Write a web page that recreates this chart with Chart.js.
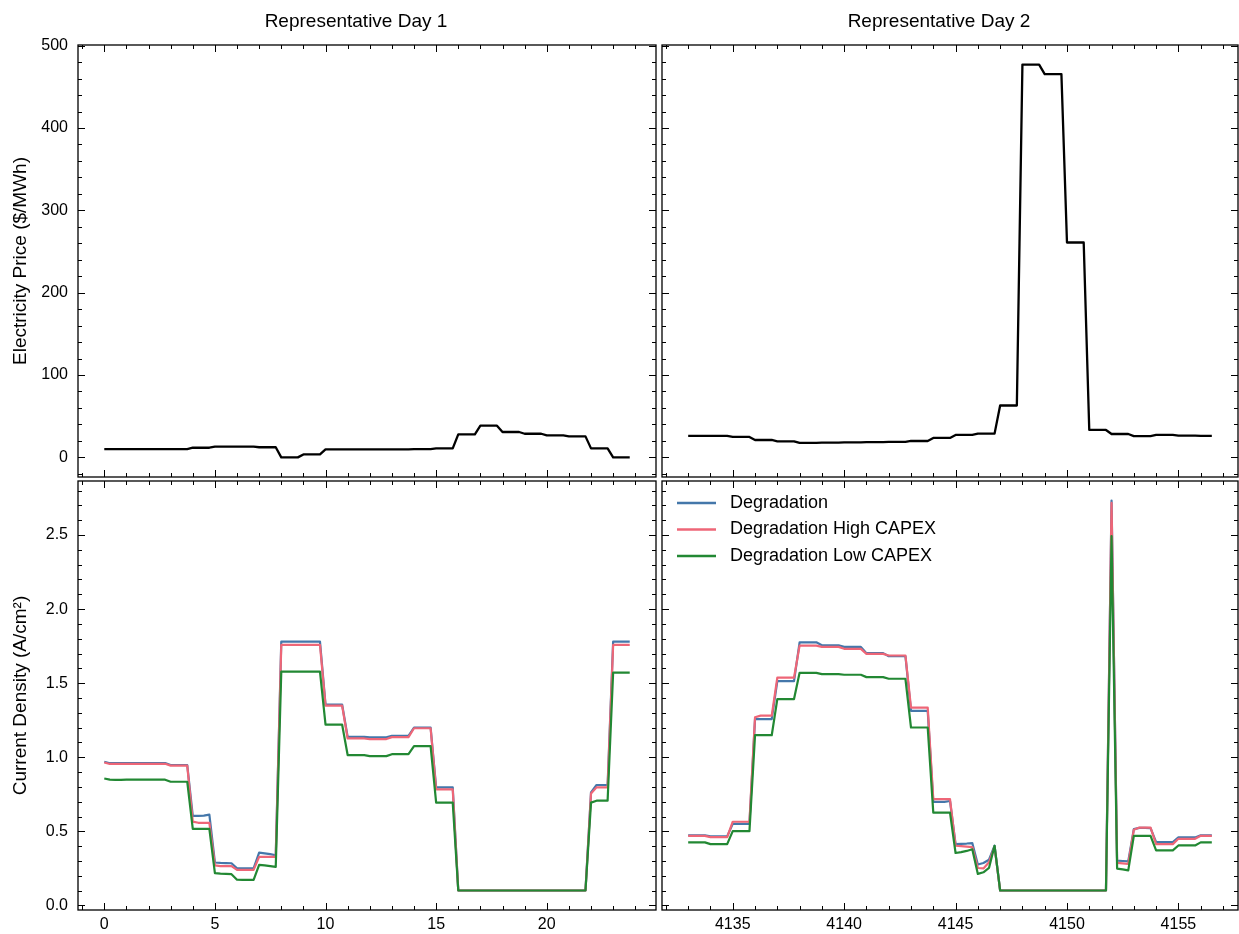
<!DOCTYPE html>
<html>
<head>
<meta charset="utf-8">
<title>Representative Days</title>
<script src="https://cdn.jsdelivr.net/npm/chart.js@4.4.1/dist/chart.umd.min.js"></script>
<style>
html,body{margin:0;padding:0;background:#fff;}
#wrap{position:relative;width:1239px;height:934px;overflow:hidden;background:#fff;}
#wrap canvas{position:absolute;left:0;top:0;}
</style>
</head>
<body>
<div id="wrap">
<canvas id="cA" width="1239" height="934"></canvas>
<canvas id="cB" width="1239" height="934"></canvas>
<canvas id="cC" width="1239" height="934"></canvas>
<canvas id="cD" width="1239" height="934"></canvas>
</div>
<script>
// ---------------- DATA (15-minute resolution) ----------------
const titles = ['Representative Day 1', 'Representative Day 2'];
const seriesNames = ['Degradation', 'Degradation High CAPEX', 'Degradation Low CAPEX'];
const day1Start = 0;      // hours
const day2Start = 4133;   // hours
const stepHours = 0.25;

// Electricity price ($/MWh)
const priceDay1 = [
  10.1,10.1,10.1,10.1, 10.1,10.1,10.1,10.1, 10.1,10.1,10.1,10.1, 10.1,10.1,10.1,10.1,
  11.7,11.7,11.7,11.7, 13.0,13.0,13.0,13.0, 13.0,13.0,13.0,13.0, 12.3,12.3,12.3,12.3,
  0,0,0,0, 3.6,3.6,3.6,3.6, 9.7,9.7,9.7,9.7, 9.7,9.7,9.7,9.7,
  9.8,9.8,9.8,9.8, 9.8,9.8,9.8,9.8, 9.9,9.9,9.9,9.9, 10.9,10.9,10.9,10.9,
  28.0,28.0,28.0,28.0, 38.5,38.5,38.5,38.5, 30.8,30.8,30.8,30.8, 28.7,28.7,28.7,28.7,
  26.7,26.7,26.7,26.7, 25.5,25.5,25.5,25.5, 10.9,10.9,10.9,10.9, 0,0,0,0
];
const priceDay2 = [
  26.0,26.0,26.0,26.0, 26.0,26.0,26.0,26.0, 24.8,24.8,24.8,24.8, 21.1,21.1,21.1,21.1,
  19.5,19.5,19.5,19.5, 17.5,17.5,17.5,17.5, 18.0,18.0,18.0,18.0, 18.3,18.3,18.3,18.3,
  18.5,18.5,18.5,18.5, 18.7,18.7,18.7,18.7, 19.9,19.9,19.9,19.9, 23.6,23.6,23.6,23.6,
  27.2,27.2,27.2,27.2, 28.8,28.8,28.8,28.8, 63.0,63.0,63.0,63.0, 477.0,477.0,477.0,477.0,
  465.5,465.5,465.5,465.5, 261.0,261.0,261.0,261.0, 33.3,33.3,33.3,33.3, 28.4,28.4,28.4,28.4,
  25.8,25.8,25.8,25.8, 27.2,27.2,27.2,27.2, 26.4,26.4,26.4,26.4, 26.0,26.0,26.0
];

// Current density (A/cm2), Day 1
const degDay1 = [
  0.970,0.960,0.960,0.960, 0.961,0.961,0.961,0.961, 0.961,0.961,0.961,0.961, 0.948,0.948,0.948,0.948,
  0.604,0.604,0.606,0.613, 0.290,0.287,0.286,0.285, 0.251,0.250,0.250,0.250, 0.357,0.352,0.346,0.339,
  1.780,1.780,1.780,1.780, 1.780,1.780,1.780,1.780, 1.356,1.356,1.356,1.356, 1.138,1.138,1.138,1.138,
  1.135,1.135,1.135,1.135, 1.145,1.145,1.145,1.145, 1.201,1.201,1.201,1.201, 0.797,0.797,0.797,0.797,
  0.101,0.101,0.101,0.101, 0.101,0.101,0.101,0.101, 0.101,0.101,0.101,0.101, 0.101,0.101,0.101,0.101,
  0.101,0.101,0.101,0.101, 0.101,0.101,0.101,0.101, 0.763,0.813,0.813,0.813, 1.780,1.780,1.780,1.780
];
const highDay1 = [
  0.965,0.955,0.955,0.955, 0.956,0.956,0.956,0.956, 0.956,0.956,0.956,0.956, 0.944,0.944,0.944,0.944,
  0.566,0.558,0.558,0.557, 0.270,0.266,0.266,0.266, 0.240,0.240,0.240,0.240, 0.328,0.328,0.328,0.328,
  1.758,1.758,1.758,1.758, 1.758,1.758,1.758,1.758, 1.349,1.349,1.349,1.349, 1.127,1.127,1.127,1.127,
  1.123,1.123,1.123,1.123, 1.136,1.136,1.136,1.136, 1.196,1.196,1.196,1.196, 0.783,0.783,0.783,0.783,
  0.101,0.101,0.101,0.101, 0.101,0.101,0.101,0.101, 0.101,0.101,0.101,0.101, 0.101,0.101,0.101,0.101,
  0.101,0.101,0.101,0.101, 0.101,0.101,0.101,0.101, 0.756,0.797,0.797,0.797, 1.758,1.758,1.758,1.758
];
const lowDay1 = [
  0.857,0.849,0.848,0.848, 0.849,0.849,0.849,0.849, 0.849,0.849,0.849,0.849, 0.835,0.835,0.835,0.835,
  0.517,0.517,0.517,0.517, 0.218,0.215,0.213,0.211, 0.174,0.173,0.173,0.173, 0.274,0.270,0.265,0.260,
  1.578,1.578,1.578,1.578, 1.578,1.578,1.578,1.578, 1.221,1.221,1.221,1.221, 1.015,1.015,1.015,1.015,
  1.008,1.008,1.008,1.008, 1.021,1.021,1.021,1.021, 1.075,1.075,1.075,1.075, 0.694,0.694,0.694,0.694,
  0.101,0.101,0.101,0.101, 0.101,0.101,0.101,0.101, 0.101,0.101,0.101,0.101, 0.101,0.101,0.101,0.101,
  0.101,0.101,0.101,0.101, 0.101,0.101,0.101,0.101, 0.694,0.707,0.707,0.707, 1.571,1.571,1.571,1.571
];

// Current density (A/cm2), Day 2
const degDay2 = [
  0.473,0.473,0.473,0.473, 0.466,0.466,0.466,0.466, 0.551,0.551,0.551,0.551, 1.257,1.257,1.257,1.257,
  1.514,1.514,1.514,1.514, 1.776,1.776,1.776,1.776, 1.756,1.756,1.756,1.756, 1.745,1.745,1.745,1.745,
  1.703,1.703,1.703,1.703, 1.682,1.682,1.682,1.682, 1.313,1.313,1.313,1.313, 0.699,0.699,0.699,0.705,
  0.414,0.416,0.418,0.421, 0.276,0.287,0.309,0.403, 0.101,0.101,0.101,0.101, 0.101,0.101,0.101,0.101,
  0.101,0.101,0.101,0.101, 0.101,0.101,0.101,0.101, 0.101,0.101,0.101,0.101, 2.733,0.302,0.300,0.298,
  0.515,0.524,0.524,0.522, 0.428,0.428,0.428,0.428, 0.459,0.459,0.459,0.459, 0.473,0.473,0.473
];
const highDay2 = [
  0.470,0.470,0.470,0.470, 0.461,0.461,0.461,0.461, 0.565,0.565,0.565,0.565, 1.270,1.281,1.281,1.281,
  1.537,1.537,1.537,1.537, 1.754,1.754,1.754,1.754, 1.745,1.745,1.745,1.745, 1.732,1.732,1.732,1.732,
  1.698,1.698,1.698,1.698, 1.687,1.687,1.687,1.687, 1.335,1.335,1.335,1.335, 0.717,0.717,0.717,0.717,
  0.403,0.400,0.397,0.394, 0.253,0.250,0.291,0.395, 0.101,0.101,0.101,0.101, 0.101,0.101,0.101,0.101,
  0.101,0.101,0.101,0.101, 0.101,0.101,0.101,0.101, 0.101,0.101,0.101,0.101, 2.717,0.287,0.284,0.280,
  0.511,0.526,0.526,0.526, 0.414,0.414,0.414,0.414, 0.450,0.450,0.450,0.450, 0.470,0.470,0.470
];
const lowDay2 = [
  0.426,0.426,0.426,0.426, 0.414,0.414,0.414,0.414, 0.502,0.502,0.502,0.502, 1.149,1.149,1.149,1.149,
  1.393,1.393,1.393,1.393, 1.570,1.570,1.570,1.570, 1.561,1.561,1.561,1.561, 1.557,1.557,1.557,1.557,
  1.541,1.541,1.541,1.541, 1.530,1.530,1.530,1.530, 1.201,1.201,1.201,1.201, 0.627,0.627,0.627,0.627,
  0.354,0.360,0.368,0.379, 0.213,0.224,0.253,0.403, 0.101,0.101,0.101,0.101, 0.101,0.101,0.101,0.101,
  0.101,0.101,0.101,0.101, 0.101,0.101,0.101,0.101, 0.101,0.101,0.101,0.101, 2.493,0.249,0.243,0.237,
  0.470,0.470,0.470,0.470, 0.372,0.372,0.372,0.372, 0.405,0.405,0.405,0.405, 0.426,0.426,0.426
];

const seriesColors = ['#4477AA', '#EE6677', '#228833'];
const priceColor = '#000000';

// ---------------- LAYOUT ----------------
const FONT = "'Liberation Sans', Arial, Helvetica, sans-serif";
Chart.defaults.font.family = FONT;
Chart.defaults.color = '#000';
const CW = 1239, CH = 934;
const colL = {left: 78, right: 656}, colR = {left: 662, right: 1238};
const rowT = {top: 45, bottom: 477}, rowB = {top: 481, bottom: 910};
const Y_AXIS_W = 78, X_AXIS_H = 24;

function pts(t0, vals) { return vals.map((v, i) => ({x: t0 + i * stepHours, y: v})); }
function padRange(lo, hi) { const m = (hi - lo) * 0.05; return [lo - m, hi + m]; }

const xr1 = padRange(day1Start, day1Start + (priceDay1.length - 1) * stepHours);
const xr2 = padRange(day2Start, day2Start + (priceDay2.length - 1) * stepHours);
const yrP = padRange(0, 477);
const yrJ = padRange(0.101, 2.733);

// ---------------- PLUGINS ----------------
const framePlugin = {
  id: 'frame',
  afterDatasetsDraw(chart, args, o) {
    const {ctx, chartArea: a} = chart;
    const x = chart.scales.x, y = chart.scales.y;
    const list = (s, step) => { const out = []; const k0 = Math.ceil(s.min / step - 1e-9); for (let k = k0; k * step <= s.max + 1e-9; k++) out.push(k * step); return out; };
    ctx.save();
    ctx.strokeStyle = '#000';
    ctx.lineWidth = 1;
    const tickX = (vals, len) => { ctx.beginPath(); vals.forEach(v => { const p = Math.round(x.getPixelForValue(v)) + 0.5; ctx.moveTo(p, a.bottom); ctx.lineTo(p, a.bottom - len); ctx.moveTo(p, a.top); ctx.lineTo(p, a.top + len); }); ctx.stroke(); };
    const tickY = (vals, len) => { ctx.beginPath(); vals.forEach(v => { const p = Math.round(y.getPixelForValue(v)) + 0.5; ctx.moveTo(a.left, p); ctx.lineTo(a.left + len, p); ctx.moveTo(a.right, p); ctx.lineTo(a.right - len, p); }); ctx.stroke(); };
    tickX(list(x, o.xMinor), 4); tickX(list(x, o.xMajor), 7);
    tickY(list(y, o.yMinor), 4); tickY(list(y, o.yMajor), 7);
    ctx.lineWidth = 1.3;
    ctx.strokeRect(a.left, a.top, a.right - a.left, a.bottom - a.top);
    ctx.restore();
  }
};

const panelTitle = {
  id: 'panelTitle',
  afterDraw(chart, args, o) {
    if (!o || !o.text) return;
    const {ctx, chartArea: a} = chart;
    ctx.save();
    ctx.font = o.size + 'px ' + FONT;
    ctx.fillStyle = '#000';
    ctx.textAlign = 'center';
    ctx.textBaseline = 'middle';
    ctx.fillText(o.text, (a.left + a.right) / 2 + o.dx, o.y);
    ctx.restore();
  }
};

const lineLegend = {
  id: 'lineLegend',
  afterDraw(chart, args, o) {
    if (!o || !o.show) return;
    const {ctx, chartArea: a} = chart;
    ctx.save();
    ctx.font = '18px ' + FONT;
    ctx.textBaseline = 'middle';
    ctx.textAlign = 'left';
    chart.data.datasets.forEach((ds, i) => {
      const yy = a.top + 22 + i * 26.5;
      ctx.strokeStyle = ds.borderColor; ctx.lineWidth = 2.5;
      ctx.beginPath(); ctx.moveTo(a.left + 15, yy); ctx.lineTo(a.left + 54, yy); ctx.stroke();
      ctx.fillStyle = '#000';
      ctx.fillText(ds.label, a.left + 68, yy);
    });
    ctx.restore();
  }
};

function xScale(range, showLabels) {
  return {
    type: 'linear', min: range[0], max: range[1], display: showLabels,
    grid: {display: false, drawTicks: false}, border: {display: false},
    ticks: {stepSize: 5, includeBounds: false, padding: 5, autoSkip: false, maxRotation: 0,
            font: {size: 16}, color: '#000', callback: v => String(v)},
    afterFit: s => { if (showLabels) s.height = X_AXIS_H; }
  };
}
function yScale(range, step, label, fmt, showLabels) {
  return {
    type: 'linear', min: range[0], max: range[1], display: showLabels,
    grid: {display: false, drawTicks: false}, border: {display: false},
    ticks: {stepSize: step, includeBounds: false, padding: 10, font: {size: 16}, color: '#000', callback: fmt},
    title: {display: !!label, text: label, font: {size: 19}, color: '#000', padding: {top: 9, bottom: 0}},
    afterFit: s => { if (showLabels) s.width = Y_AXIS_W; }
  };
}

function makeChart(id, cfg) {
  const col = cfg.col, row = cfg.row;
  const padLeft = cfg.yLabels ? col.left - Y_AXIS_W : col.left;
  const padBottom = cfg.xLabels ? CH - row.bottom - X_AXIS_H : CH - row.bottom;
  return new Chart(document.getElementById(id), {
    type: 'line',
    data: {datasets: cfg.datasets},
    options: {
      responsive: false, animation: false, devicePixelRatio: 1,
      layout: {padding: {left: padLeft, right: CW - col.right, top: row.top, bottom: padBottom}},
      elements: {point: {radius: 0}, line: {tension: 0, borderJoinStyle: 'round'}},
      scales: {
        x: xScale(cfg.xRange, cfg.xLabels),
        y: yScale(cfg.yRange, cfg.yStep, cfg.yTitle, cfg.yFmt, cfg.yLabels)
      },
      plugins: {
        legend: {display: false}, tooltip: {enabled: false}, title: {display: false},
        panelTitle: {text: cfg.title || '', size: 19, dx: -11, y: 22},
        frame: cfg.frame,
        lineLegend: {show: !!cfg.legend}
      }
    },
    plugins: [framePlugin, panelTitle, lineLegend]
  });
}

function priceSet(t0, vals) {
  return [{label: 'Electricity Price', data: pts(t0, vals), borderColor: priceColor, borderWidth: 2.3, fill: false}];
}
function cdSets(t0, a, b, c) {
  return [a, b, c].map((vals, i) => ({
    label: seriesNames[i], data: pts(t0, vals), borderColor: seriesColors[i],
    borderWidth: 2.2, fill: false, order: 3 - i
  }));
}
const fmtInt = v => String(v);
const fmt1 = v => v.toFixed(1);

makeChart('cA', {col: colL, row: rowT, title: titles[0], xRange: xr1, xLabels: false,
  yRange: yrP, yStep: 100, yTitle: 'Electricity Price ($/MWh)', yFmt: fmtInt, yLabels: true,
  frame: {xMajor: 5, xMinor: 1, yMajor: 100, yMinor: 20}, datasets: priceSet(day1Start, priceDay1)});
makeChart('cB', {col: colR, row: rowT, title: titles[1], xRange: xr2, xLabels: false,
  yRange: yrP, yStep: 100, yTitle: '', yFmt: fmtInt, yLabels: false,
  frame: {xMajor: 5, xMinor: 1, yMajor: 100, yMinor: 20}, datasets: priceSet(day2Start, priceDay2)});
makeChart('cC', {col: colL, row: rowB, title: null, xRange: xr1, xLabels: true,
  yRange: yrJ, yStep: 0.5, yTitle: 'Current Density (A/cm²)', yFmt: fmt1, yLabels: true,
  frame: {xMajor: 5, xMinor: 1, yMajor: 0.5, yMinor: 0.1}, datasets: cdSets(day1Start, degDay1, highDay1, lowDay1)});
makeChart('cD', {col: colR, row: rowB, title: null, xRange: xr2, xLabels: true,
  yRange: yrJ, yStep: 0.5, yTitle: '', yFmt: fmt1, yLabels: false, legend: true,
  frame: {xMajor: 5, xMinor: 1, yMajor: 0.5, yMinor: 0.1}, datasets: cdSets(day2Start, degDay2, highDay2, lowDay2)});
</script>
</body>
</html>
